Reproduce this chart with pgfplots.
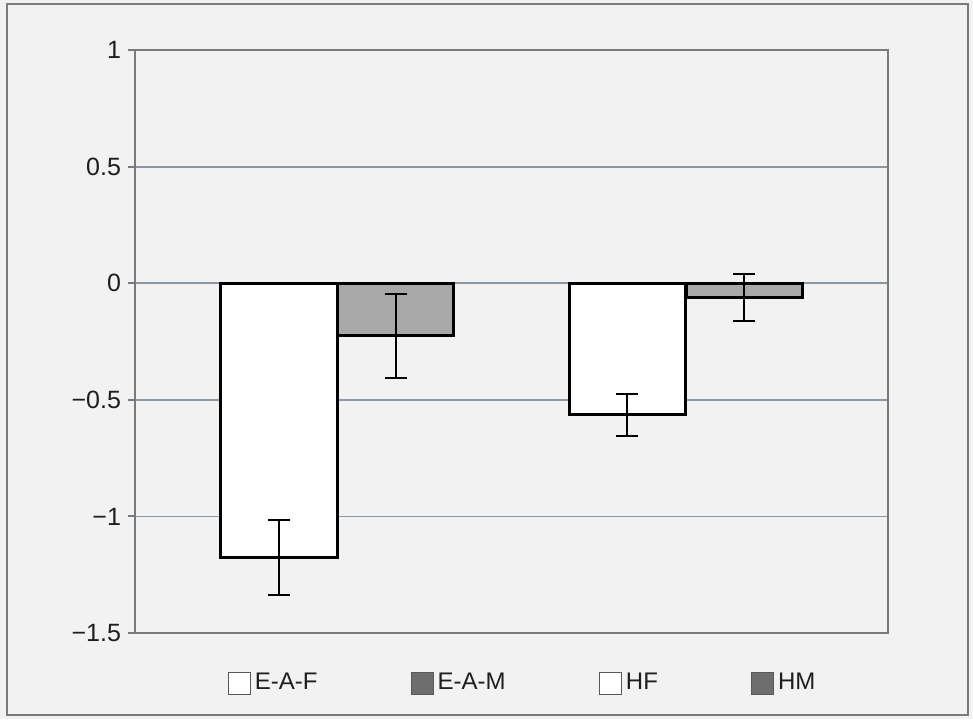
\documentclass[border=0pt]{standalone}
\usepackage{pgfplots}
\pgfplotsset{compat=1.18}
\usepackage{fontspec}
\setmainfont{Liberation Sans}
\definecolor{bg}{HTML}{F2F2F2}
\definecolor{gridc}{HTML}{8C97A6}
\definecolor{axc}{HTML}{7A7A7A}
\definecolor{barg}{HTML}{A8A8A8}
\definecolor{legg}{HTML}{6E6E6E}
\definecolor{txt}{HTML}{1E1E1E}
\begin{document}
\begin{tikzpicture}
\useasboundingbox[fill=bg] (-67.5pt,-43pt) rectangle (419pt,316.5pt);
\draw[axc, line width=1pt] (-64pt,-41pt) rectangle (416.5pt,314.5pt);
\begin{axis}[at={(0,0)}, anchor=south west, scale only axis,
  width=376.5pt, height=291.5pt,
  xmin=-0.579, xmax=1.579, ymin=-1.5, ymax=1,
  ytick={-1.5,-1,-0.5,0,0.5,1},
  yticklabels={−1.5,−1,−0.5,0,0.5,1},
  xtick=\empty, ytick pos=left,
  ymajorgrids, grid style={gridc, line width=0.9pt},
  axis line style={axc, line width=1pt},
  tick align=outside, major tick length=3.5pt,
  ytick style={axc, line width=1pt},
  tick label style={font=\fontsize{12.5}{14}\selectfont, text=txt},
  ybar, bar width=0.335, bar shift=0pt,
  legend columns=4,
  legend style={at={(axis description cs:0.516,-0.086)}, anchor=center,
    draw=none, fill=none, font=\fontsize{12}{14}\selectfont, text=txt,
    /tikz/every even column/.append style={column sep=44.5pt},
    inner sep=0pt, nodes={inner sep=2pt}},
]
\addplot[fill=white, draw=black, line width=1.5pt,
  error bars/.cd, y dir=both, y explicit,
  error bar style={line width=1pt, black},
  error mark options={rotate=90, mark size=5.5pt, line width=1pt, black},
  /pgfplots/legend image code/.code={\draw[draw=gray!70!black, fill=white, line width=0.6pt] (0pt,-5.5pt) rectangle (11pt,5.5pt);}]
  coordinates {(-0.1676,-1.175) +- (0,0.16)};
\addlegendentry{E-A-F}
\addplot[fill=barg, draw=black, line width=1.5pt,
  error bars/.cd, y dir=both, y explicit,
  error bar style={line width=1pt, black},
  error mark options={rotate=90, mark size=5.5pt, line width=1pt, black},
  /pgfplots/legend image code/.code={\draw[draw=gray!70!black, fill=legg, line width=0.6pt] (0pt,-5.5pt) rectangle (11pt,5.5pt);}]
  coordinates {(0.1676,-0.225) +- (0,0.18)};
\addlegendentry{E-A-M}
\addplot[fill=white, draw=black, line width=1.5pt,
  error bars/.cd, y dir=both, y explicit,
  error bar style={line width=1pt, black},
  error mark options={rotate=90, mark size=5.5pt, line width=1pt, black},
  /pgfplots/legend image code/.code={\draw[draw=gray!70!black, fill=white, line width=0.6pt] (0pt,-5.5pt) rectangle (11pt,5.5pt);}]
  coordinates {(0.8324,-0.565) +- (0,0.09)};
\addlegendentry{HF}
\addplot[fill=barg, draw=black, line width=1.5pt,
  error bars/.cd, y dir=both, y explicit,
  error bar style={line width=1pt, black},
  error mark options={rotate=90, mark size=5.5pt, line width=1pt, black},
  /pgfplots/legend image code/.code={\draw[draw=gray!70!black, fill=legg, line width=0.6pt] (0pt,-5.5pt) rectangle (11pt,5.5pt);}]
  coordinates {(1.1676,-0.062) +- (0,0.10)};
\addlegendentry{HM}
\end{axis}
\end{tikzpicture}
\end{document}
